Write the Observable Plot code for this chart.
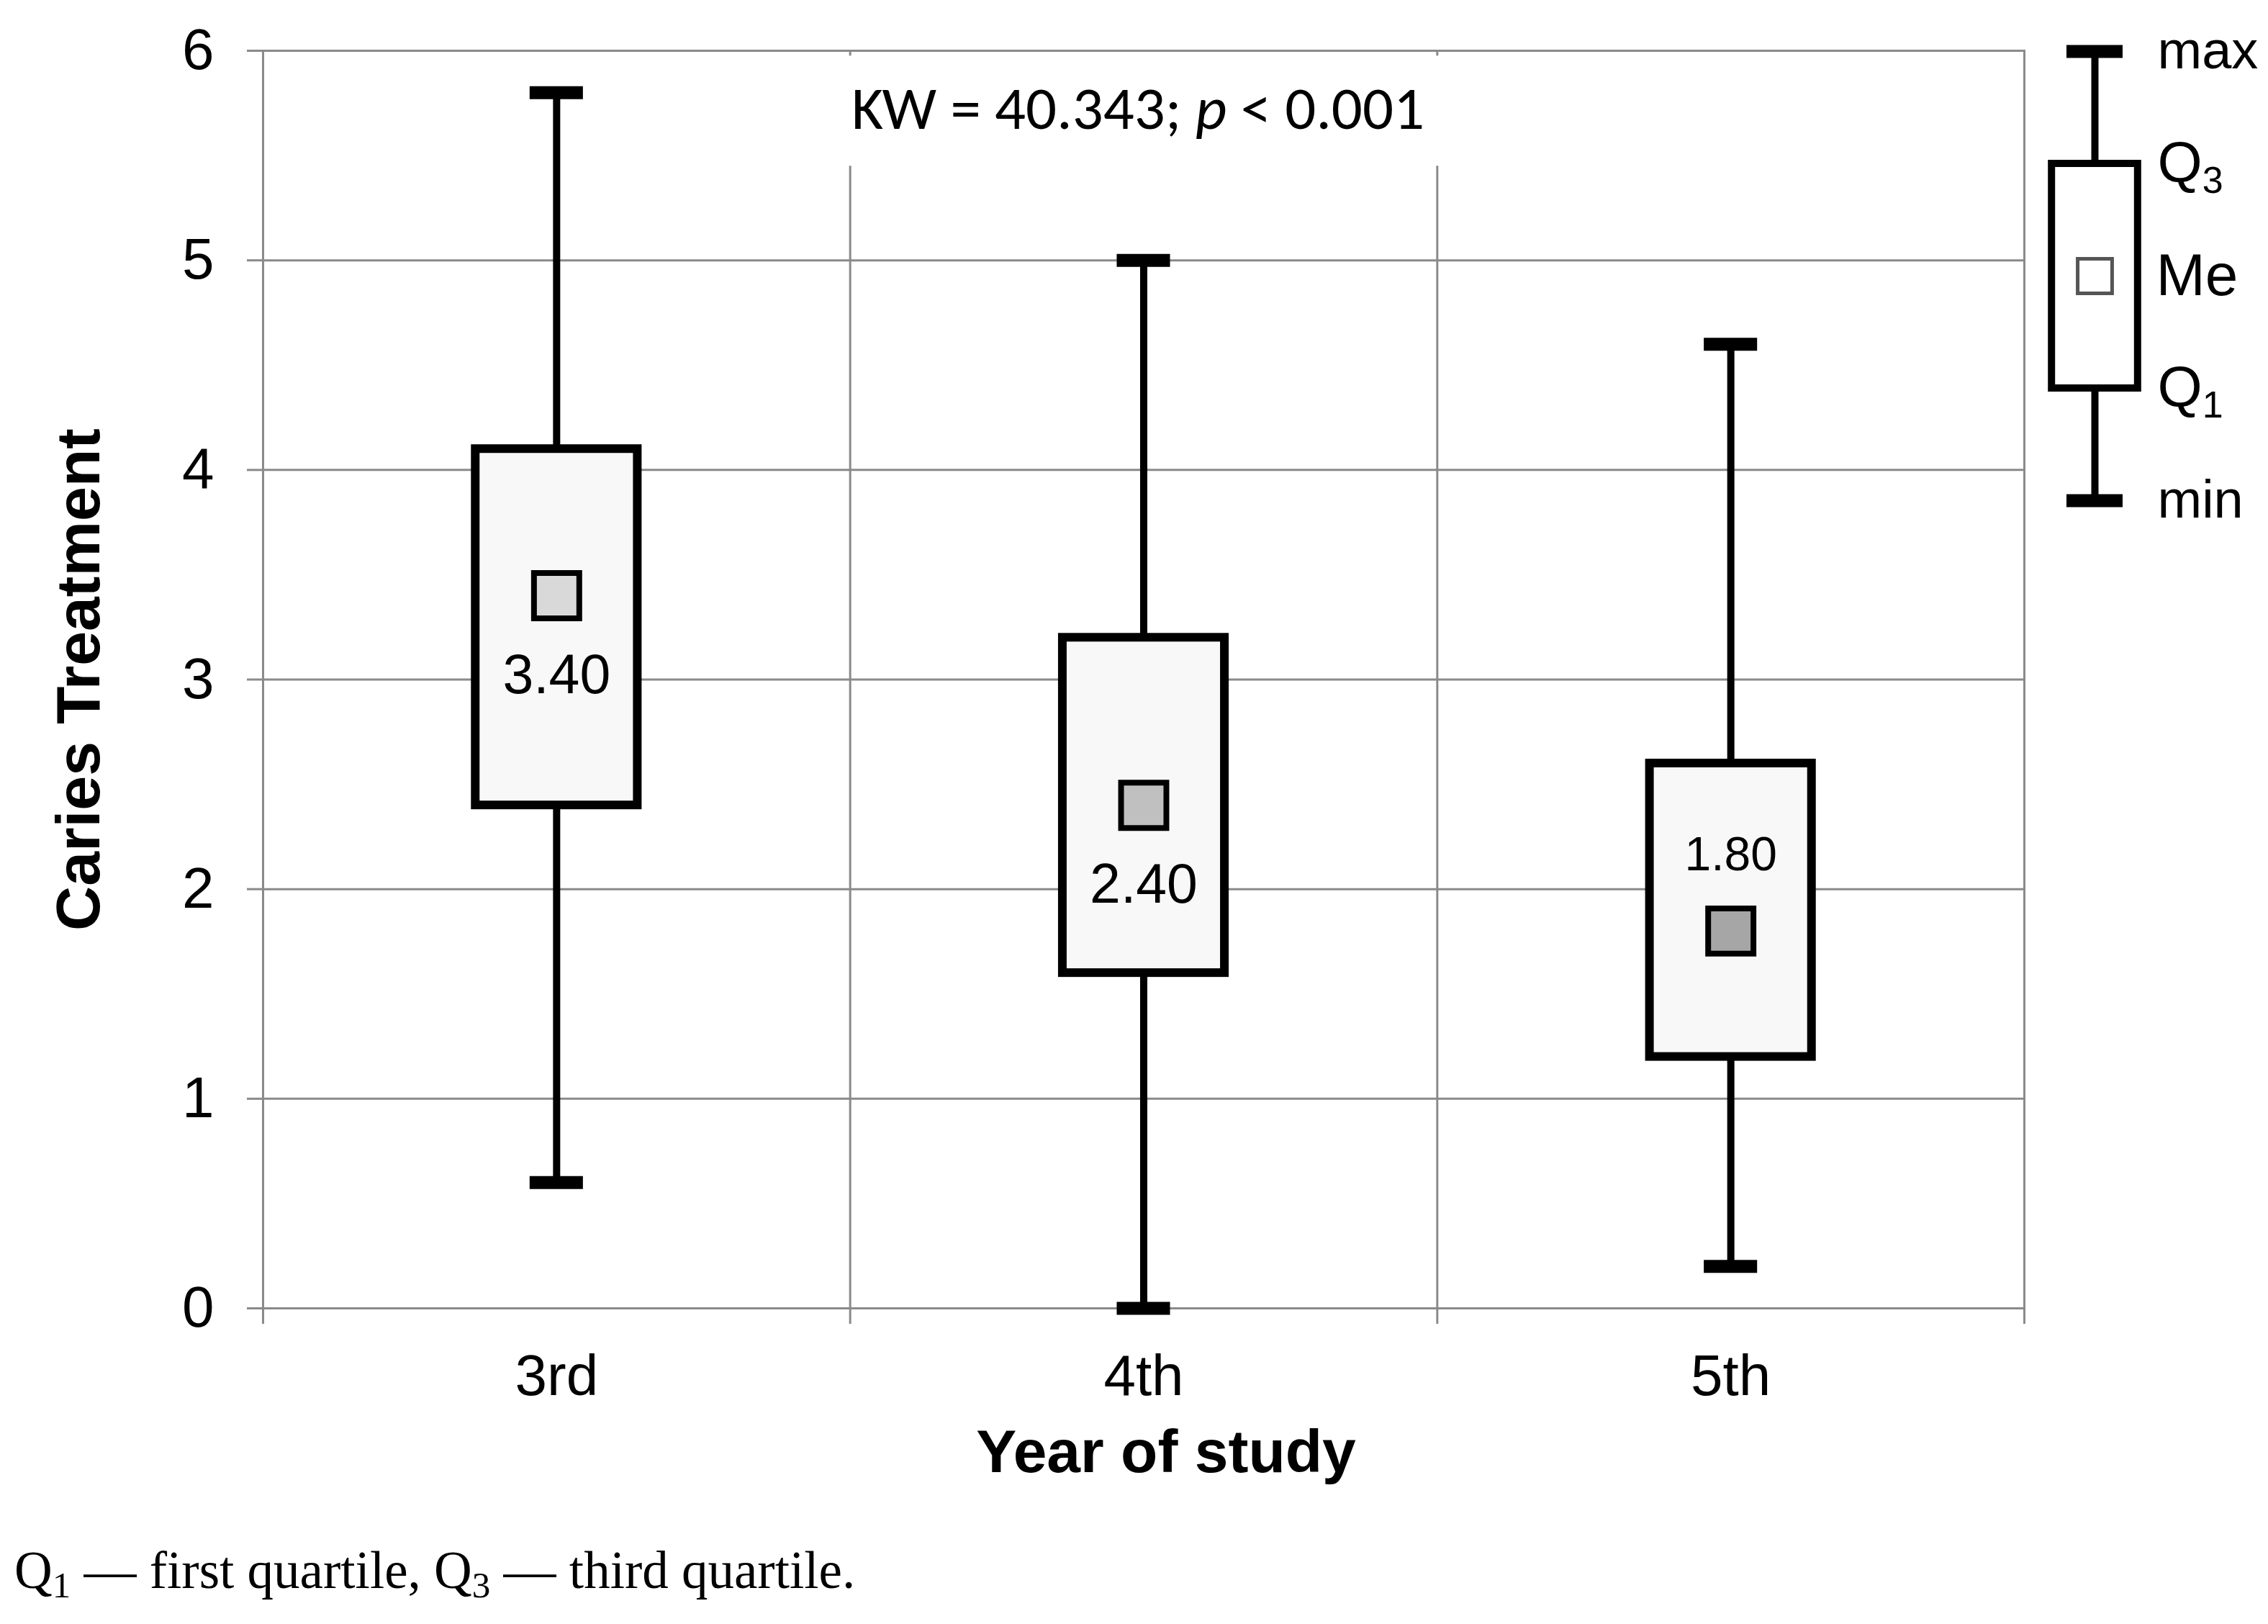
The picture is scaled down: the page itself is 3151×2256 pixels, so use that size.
<!DOCTYPE html>
<html><head><meta charset="utf-8">
<script src="https://cdn.jsdelivr.net/npm/d3@7"></script>
<script src="https://cdn.jsdelivr.net/npm/@observablehq/plot@0.6"></script>
<style>
html,body{margin:0;padding:0;background:#fff;}
#root{position:relative;width:3151px;height:2256px;overflow:hidden;background:#fff;}
#chart{position:absolute;left:0;top:0;}
#legend{position:absolute;left:2840px;top:0;}
#caption{position:absolute;left:20px;top:2145px;font-family:"Liberation Serif","Times New Roman",serif;font-size:73px;white-space:nowrap;color:#000;line-height:1;}
#caption sub{font-size:0.7em;vertical-align:-0.25em;line-height:0;}
</style></head>
<body><div id="root"><div id="chart"></div><div id="legend"></div><div id="caption"></div></div>
<script>
// ---- data ----
const years = ["3rd", "4th", "5th"];
const minValues = [0.6, 0.0, 0.2];
const q1Values = [2.4, 1.6, 1.2];
const medianValues = [3.40, 2.40, 1.80];
const q3Values = [4.1, 3.2, 2.6];
const maxValues = [5.8, 5.0, 4.6];
const yTicks = [0, 1, 2, 3, 4, 5, 6];
const medianLabelPlacement = ["below", "below", "above"];
const annotationText = "KW = 40.343; p < 0.001";
const yLabel = "Caries Treatment";
const xLabel = "Year of study";
const legendKeys = ["max", "Q3", "Me", "Q1", "min"];
const captionHTML = "Q<sub>1</sub> — first quartile, Q<sub>3</sub> — third quartile.";

// ---- styles ----
const medianFills = ["#d9d9d9", "#c0c0c0", "#a6a6a6"];
const gridColor = "#8a8a8a";
const sans = "'Liberation Sans', Arial, sans-serif";
const narrow = "'Liberation Sans Narrow', 'Liberation Sans', Arial, sans-serif";

const rows = years.map((year, i) => ({
  year, i, c: i + 0.5,
  min: minValues[i], q1: q1Values[i], median: medianValues[i], q3: q3Values[i], max: maxValues[i],
  fill: medianFills[i], side: medianLabelPlacement[i]
}));
const bounds = d3.range(years.length + 1);
const innerBounds = bounds.slice(1, -1);
const centers = rows.map(d => d.c);
const boxHalf = 0.138, capHalf = 0.0454;

const chart = Plot.plot({
  width: 3151, height: 2100,
  marginLeft: 365, marginRight: 339, marginTop: 70, marginBottom: 283,
  style: {fontFamily: sans, background: "white", color: "black"},
  x: {domain: [0, years.length]},
  y: {domain: [0, 6]},
  color: {type: "identity"},
  marks: [
    Plot.gridY({ticks: yTicks, stroke: gridColor, strokeOpacity: 1, strokeWidth: 3}),
    Plot.ruleX(innerBounds, {x: d => d, y1: 0, y2: () => 5.45, stroke: gridColor, strokeWidth: 3}),
    Plot.ruleX(innerBounds, {x: d => d, y1: () => 6, y2: () => 5.975, stroke: gridColor, strokeWidth: 3}),
    Plot.frame({stroke: gridColor, strokeWidth: 3}),
    Plot.axisY({ticks: yTicks, tickSize: 22, tickPadding: 46, tickFormat: d => String(d), stroke: gridColor, strokeWidth: 3, fill: "black", fontSize: 80, fontFamily: sans, label: null}),
    Plot.axisX({ticks: bounds, tickSize: 22, tickFormat: () => "", stroke: gridColor, strokeWidth: 3, label: null}),
    Plot.axisX({ticks: centers, tickSize: 0, tickPadding: 64, tickFormat: v => years[Math.round(v - 0.5)], fill: "black", fontSize: 80, fontFamily: sans, label: null}),
    // whiskers
    Plot.ruleX(rows, {x: "c", y1: "q3", y2: "max", stroke: "black", strokeWidth: 10}),
    Plot.ruleX(rows, {x: "c", y1: "min", y2: "q1", stroke: "black", strokeWidth: 10}),
    // caps
    Plot.ruleY(rows, {y: "max", x1: d => d.c - capHalf, x2: d => d.c + capHalf, stroke: "black", strokeWidth: 18}),
    Plot.ruleY(rows, {y: "min", x1: d => d.c - capHalf, x2: d => d.c + capHalf, stroke: "black", strokeWidth: 18}),
    // boxes
    Plot.rect(rows, {x1: d => d.c - boxHalf, x2: d => d.c + boxHalf, y1: "q1", y2: "q3", fill: "#f8f8f8", stroke: "black", strokeWidth: 12}),
    // medians
    Plot.dot(rows, {x: "c", y: "median", symbol: "square", r: 35.5, fill: "fill", stroke: "black", strokeWidth: 8}),
    Plot.text(rows, {filter: d => d.side === "below", x: "c", y: "median", text: d => d.median.toFixed(2), dy: 111, fontSize: 77, fontFamily: narrow, fill: "black"}),
    Plot.text(rows, {filter: d => d.side === "above", x: "c", y: "median", text: d => d.median.toFixed(2), dy: -106, fontSize: 66, fontFamily: sans, fill: "black"}),
    // annotation
    Plot.text([annotationText], {frameAnchor: "top", textAnchor: "middle", lineAnchor: "middle", dy: 81, dx: -8, fontSize: 85, fontFamily: "Carlito, Lato, sans-serif", fill: "black"}),
    // axis titles
    Plot.text([yLabel], {frameAnchor: "left", textAnchor: "middle", lineAnchor: "middle", dx: -255, rotate: -90, fontSize: 86, fontWeight: "bold", fontFamily: sans, fill: "black"}),
    Plot.text([xLabel], {frameAnchor: "bottom", textAnchor: "middle", lineAnchor: "middle", dy: 201, dx: 31, fontSize: 84, fontWeight: "bold", fontFamily: sans, fill: "black"})
  ]
});

// italic p in the annotation
const svgNS = "http://www.w3.org/2000/svg";
chart.querySelectorAll("text").forEach(t => {
  if (t.textContent === annotationText) {
    const k = annotationText.indexOf("p <");
    const parts = [[annotationText.slice(0, k), null], ["p", "italic"], [annotationText.slice(k + 1), null]];
    t.textContent = "";
    parts.forEach(([s, st]) => {
      const ts = document.createElementNS(svgNS, "tspan");
      ts.textContent = s;
      if (st) ts.setAttribute("font-style", st);
      t.appendChild(ts);
    });
  }
});
document.getElementById("chart").appendChild(chart);

// ---- legend key ----
const legendRows = legendKeys.map((k, i) => ({k, i}));
const legend = Plot.plot({
  width: 311, height: 780, margin: 0,
  style: {fontFamily: sans, background: "transparent", color: "black"},
  x: {domain: [-1, 1], range: [5, 135], axis: null},
  y: {domain: [0, legendKeys.length - 1], range: [71, 695], axis: null},
  marks: [
    Plot.ruleX([0], {x: d => d, y1: () => 0, y2: () => legendKeys.length - 1, stroke: "black", strokeWidth: 10}),
    Plot.ruleY([0, legendKeys.length - 1], {y: d => d, x1: () => -0.6, x2: () => 0.6, stroke: "black", strokeWidth: 18}),
    Plot.rect([legendKeys.indexOf("Q3")], {x1: () => -0.92, x2: () => 0.92, y1: d => d, y2: () => legendKeys.indexOf("Q1"), fill: "white", stroke: "black", strokeWidth: 10}),
    Plot.dot([legendKeys.indexOf("Me")], {x: () => 0, y: d => d, symbol: "square", r: 27, fill: "white", stroke: "#555", strokeWidth: 5}),
    Plot.text(legendRows, {filter: d => d.k !== "Me", x: () => 1, y: "i", text: "k", dx: 22, textAnchor: "start", fontSize: 74, fontFamily: sans, fill: "black"}),
    Plot.text(legendRows, {filter: d => d.k === "Me", x: () => 1, y: "i", text: "k", dx: 20, textAnchor: "start", fontSize: 82, fontFamily: sans, fill: "black"})
  ]
});
legend.querySelectorAll("text").forEach(t => {
  const m = /^Q(\d)$/.exec(t.textContent);
  if (m) {
    t.textContent = "Q";
    t.setAttribute("font-size", "80");
    const ts = document.createElementNS(svgNS, "tspan");
    ts.textContent = m[1];
    ts.setAttribute("font-size", "52");
    ts.setAttribute("dy", "0.28em");
    t.appendChild(ts);
  }
});
document.getElementById("legend").appendChild(legend);

document.getElementById("caption").innerHTML = captionHTML;
</script>
</body></html>
